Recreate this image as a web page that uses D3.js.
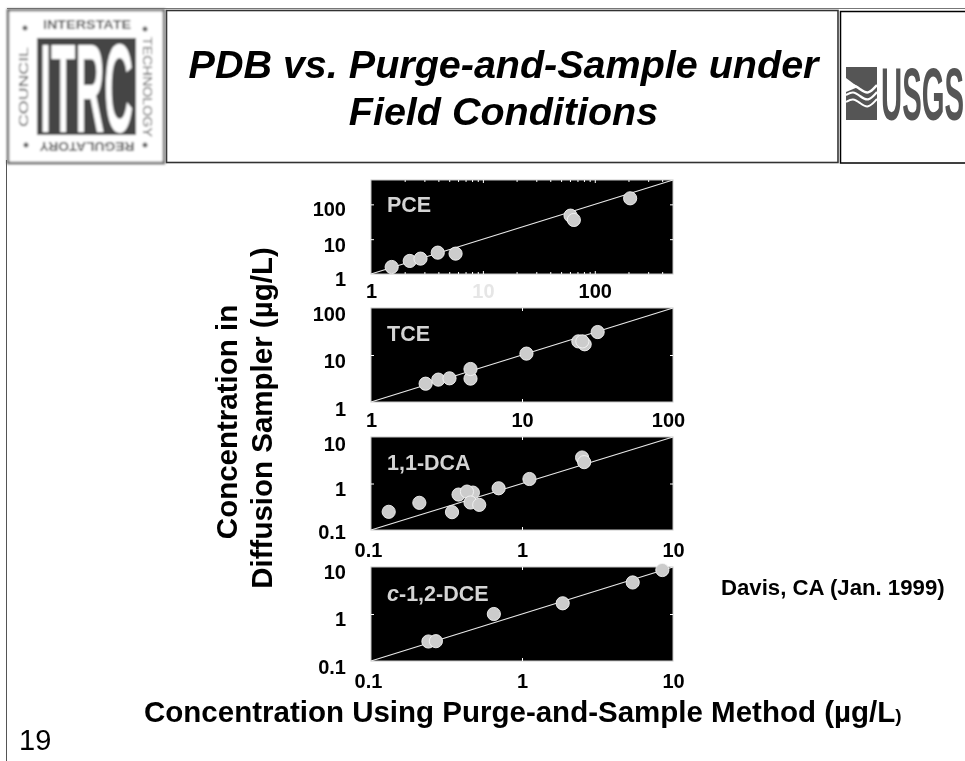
<!DOCTYPE html>
<html><head><meta charset="utf-8">
<script src="https://cdn.jsdelivr.net/npm/d3@7/dist/d3.min.js"></script>
<style>
html,body{margin:0;padding:0;background:#fff;overflow:hidden}
svg{display:block}
text{font-family:"Liberation Sans",Arial,sans-serif}
</style></head><body>
<svg id="c" width="965" height="761"></svg>
<script>
// ---- data (µg/L) ----
const panelNames = ["PCE","TCE","1,1-DCA","c-1,2-DCE"];
const pceX = [1.53,2.22,2.77,3.95,5.7,60.7,65,207];
const pceY = [1.59,2.37,2.76,4.1,3.84,47.4,35.6,149];
const tceX = [2.3,2.79,3.31,4.56,4.56,10.7,23.6,26,25.1,31.7];
const tceY = [2.45,2.99,3.19,3.14,5.04,10.7,19.5,16.9,19.5,30.8];
const dcaX = [0.131,0.209,0.344,0.38,0.473,0.432,0.456,0.521,0.70,1.12,2.5,2.58];
const dcaY = [0.246,0.384,0.242,0.578,0.637,0.67,0.39,0.347,0.789,1.25,3.62,2.88];
const dceX = [0.24,0.269,0.651,1.86,5.41,8.5];
const dceY = [0.26,0.264,1,1.69,4.69,8.63];
const pceDomain = [1,500], tceDomain = [1,100], dcaDomain = [0.1,10], dceDomain = [0.1,10];
const pceTicks = [1,10,100], tceTicks = [1,10,100], dcaTicks = [0.1,1,10], dceTicks = [0.1,1,10];
const pceMinor = [2,3,4,5,6,7,8,9,20,30,40,50,60,70,80,90,200,300,400];

// ---- layout ----
const W = 965, H = 761;
const left = 371, right = 673;
const bands = [[180,274],[308,402],[437,530],[567,661]];
const labelBase = [212,341,470,601];
const xLabelBase = [298,427,557,688];
const yLabelDy = [[11,12,11],[13,12,12],[8,11.5,13],[12,11,11]]; // low → high tick
const xLabelDx = [[0,0,0],[0,0,-5],[-3,0,0],[-3,0,0]];
const panels = [
 {name:panelNames[0],xs:pceX,ys:pceY,dom:pceDomain,ticks:pceTicks,minor:pceMinor},
 {name:panelNames[1],xs:tceX,ys:tceY,dom:tceDomain,ticks:tceTicks,minor:[]},
 {name:panelNames[2],xs:dcaX,ys:dcaY,dom:dcaDomain,ticks:dcaTicks,minor:[]},
 {name:panelNames[3],xs:dceX,ys:dceY,dom:dceDomain,ticks:dceTicks,minor:[]}
];
const fmt = d => String(d);
const svg = d3.select("#c");
const defs = svg.append("defs");
defs.append("filter").attr("id","soft").attr("x","-2%").attr("y","-2%").attr("width","104%").attr("height","104%")
  .append("feGaussianBlur").attr("stdDeviation",0.45);
defs.append("filter").attr("id","logoBlur").attr("x","-5%").attr("y","-5%").attr("width","110%").attr("height","110%")
  .append("feGaussianBlur").attr("stdDeviation",0.8);

const root = svg.append("g").attr("filter","url(#soft)");

// Squeeze a text horizontally to a given width with a transform, so its box stays true.
function squeezed(parent, str, px, py, width, size, family, fill){
  const el = parent.append("text").attr("font-size",size).attr("font-weight","bold")
    .attr("font-family",family).attr("fill",fill).text(str);
  const natural = el.node().getComputedTextLength();
  el.attr("transform",`translate(${px},${py}) scale(${width/natural},1)`);
  return el;
}

// ---- slide frame ----
root.append("line").attr("x1",7).attr("x2",W).attr("y1",8.5).attr("y2",8.5).attr("stroke","#777").attr("stroke-width",1.2);
root.append("line").attr("x1",6.5).attr("x2",6.5).attr("y1",160).attr("y2",H).attr("stroke","#555").attr("stroke-width",1);
root.append("rect").attr("x",166.5).attr("y",10.5).attr("width",671.5).attr("height",152).attr("fill","#fff").attr("stroke","#333").attr("stroke-width",1.6);
root.append("rect").attr("x",840.5).attr("y",11.5).attr("width",140).attr("height",151.5).attr("fill","#fff").attr("stroke","#000").attr("stroke-width",1.5);

// ---- title ----
const title = root.append("g").attr("font-weight","bold").attr("font-style","italic").attr("font-size",39.5).attr("text-anchor","middle").attr("fill","#000");
title.append("text").attr("x",503.5).attr("y",78).text("PDB vs. Purge-and-Sample under");
title.append("text").attr("x",503.5).attr("y",125).text("Field Conditions");

// ---- ITRC logo ----
const logo = svg.append("g").attr("filter","url(#logoBlur)");
logo.append("rect").attr("x",8).attr("y",10).attr("width",156).attr("height",153).attr("fill","#fff").attr("stroke","#666").attr("stroke-width",2.5);
logo.append("rect").attr("x",37).attr("y",38).attr("width",99).attr("height",97).attr("fill","#444");
squeezed(logo,"ITRC",40,132,93,127,"'Liberation Sans Narrow'","#fff");
const small = {fs:12.5,fill:"#555"};
logo.append("text").attr("x",87).attr("y",29).attr("text-anchor","middle").attr("font-family","'Liberation Serif'").attr("font-weight","bold").attr("font-size",small.fs).attr("fill",small.fill).attr("textLength",88).attr("lengthAdjust","spacingAndGlyphs").text("INTERSTATE");
logo.append("text").attr("transform","translate(28,87) rotate(-90)").attr("text-anchor","middle").attr("font-size",small.fs).attr("fill",small.fill).attr("textLength",80).attr("lengthAdjust","spacingAndGlyphs").text("COUNCIL");
logo.append("text").attr("transform","translate(143,87) rotate(90)").attr("text-anchor","middle").attr("font-size",small.fs).attr("fill",small.fill).attr("textLength",100).attr("lengthAdjust","spacingAndGlyphs").text("TECHNOLOGY");
logo.append("text").attr("transform","translate(87,142) rotate(180)").attr("text-anchor","middle").attr("font-family","'Liberation Serif'").attr("font-weight","bold").attr("font-size",small.fs).attr("fill",small.fill).attr("textLength",95).attr("lengthAdjust","spacingAndGlyphs").text("REGULATORY");
[[25,28],[145,29],[26,145],[145,145]].forEach(p=>logo.append("circle").attr("cx",p[0]).attr("cy",p[1]).attr("r",2.5).attr("fill","#666"));

// ---- USGS logo ----
const usgs = root.append("g");
usgs.append("rect").attr("x",846).attr("y",67).attr("width",31).attr("height",53).attr("fill","#555");
usgs.append("path").attr("d","M846,78 L858,87 L846,92 Z").attr("fill","#fff");
[[88,2.4],[95,2.2],[102,2]].forEach(w=>{
  usgs.append("path").attr("d",d3.line().curve(d3.curveBasis)([[846,w[0]],[853,w[0]-4],[860,w[0]+1],[868,w[0]+7],[877,w[0]-3]]))
    .attr("fill","none").attr("stroke","#fff").attr("stroke-width",w[1]);
});
squeezed(usgs,"USGS",881,120,83,74,"'Liberation Sans Narrow'","#555");

// ---- panels ----
panels.forEach((p,i)=>{
  const [top,bot] = bands[i];
  const x = d3.scaleLog().domain(p.dom).range([left,right]);
  const y = d3.scaleLog().domain(p.dom).range([bot,top]);
  const g = root.append("g");
  g.append("rect").attr("x",left).attr("y",top).attr("width",right-left).attr("height",bot-top)
    .attr("fill","#000").attr("stroke","#c8c8c8").attr("stroke-width",1);

  const inner = (axis,tx,vals,len)=>{
    const a = g.append("g").attr("transform",tx).call(axis.tickValues(vals).tickSize(len).tickFormat(""));
    a.select(".domain").remove();
    a.selectAll("line").attr("stroke","#fff").attr("stroke-width",1);
  };
  const mid = p.ticks.filter(t=>t>p.dom[0] && t<p.dom[1]);
  inner(d3.axisBottom(x),`translate(0,${bot})`,mid,-3);
  inner(d3.axisTop(x),`translate(0,${top})`,mid,-3);
  inner(d3.axisLeft(y),`translate(${left},0)`,mid,-3);
  inner(d3.axisRight(y),`translate(${right},0)`,mid,-3);
  if(p.minor.length){
    inner(d3.axisBottom(x),`translate(0,${bot})`,p.minor,-2);
    inner(d3.axisTop(x),`translate(0,${top})`,p.minor,-2);
  }

  g.append("line").attr("x1",x(p.dom[0])).attr("y1",y(p.dom[0])).attr("x2",x(p.dom[1])).attr("y2",y(p.dom[1]))
    .attr("stroke","#e8e8e8").attr("stroke-width",1.2);

  g.selectAll("circle.pt").data(p.xs.map((v,k)=>[v,p.ys[k]])).join("circle").attr("class","pt")
    .attr("cx",d=>x(d[0])).attr("cy",d=>y(d[1])).attr("r",6.6)
    .attr("fill","#cccccc").attr("stroke","#f4f4f4").attr("stroke-width",0.9);

  const lab = g.append("text").attr("x",387).attr("y",labelBase[i]).attr("font-size",21.5).attr("font-weight","bold").attr("fill","#d4d4d4");
  if(p.name.startsWith("c-")){
    lab.append("tspan").attr("font-style","italic").text("c");
    lab.append("tspan").text(p.name.slice(1));
  } else lab.text(p.name);

  const ax = g.append("g").attr("transform",`translate(0,${xLabelBase[i]})`)
    .call(d3.axisBottom(x).tickValues(p.ticks).tickSize(0).tickPadding(0).tickFormat(fmt));
  ax.select(".domain").remove();
  ax.selectAll("text").attr("y",0).attr("dy",0).attr("font-size",20).attr("font-weight","bold")
    .attr("font-family","'Liberation Sans'")
    .attr("dx",(d,k)=>xLabelDx[i][k])
    .attr("fill",(d)=> (i===0 && d===10) ? "#e6e6e6" : "#000");
  const ay = g.append("g").attr("transform","translate(346,0)")
    .call(d3.axisLeft(y).tickValues(p.ticks).tickSize(0).tickPadding(0).tickFormat(fmt));
  ay.select(".domain").remove();
  ay.selectAll("text").attr("x",0).attr("dy",0).attr("y",(d,k)=>yLabelDy[i][k]).attr("font-size",20).attr("font-weight","bold")
    .attr("font-family","'Liberation Sans'").attr("fill","#000");
});

// ---- axis titles ----
const t = root.append("g").attr("font-weight","bold").attr("fill","#000");
t.append("text").attr("transform","translate(237,422) rotate(-90)").attr("text-anchor","middle").attr("font-size",29.5).text("Concentration in");
t.append("text").attr("transform","translate(272,418) rotate(-90)").attr("text-anchor","middle").attr("font-size",29.5).text("Diffusion Sampler (µg/L)");
const xt = t.append("text").attr("x",144).attr("y",722).attr("font-size",29.5);
xt.append("tspan").text("Concentration Using Purge-and-Sample Method (µg/L");
xt.append("tspan").attr("font-size",19).text(")");
t.append("text").attr("x",721).attr("y",595).attr("font-size",22.2).text("Davis, CA (Jan. 1999)");
root.append("text").attr("x",19).attr("y",750).attr("font-size",29).attr("fill","#000").text("19");
</script>
</body></html>
